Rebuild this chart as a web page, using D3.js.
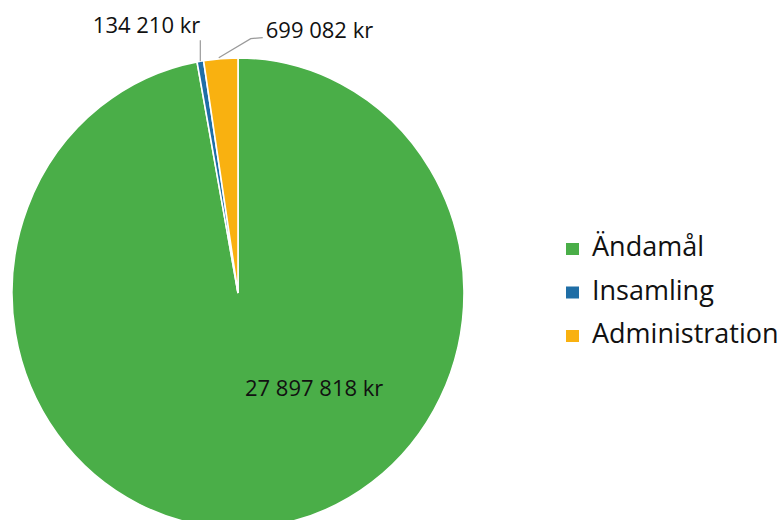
<!DOCTYPE html>
<html>
<head>
<meta charset="utf-8">
<script src="https://cdn.jsdelivr.net/npm/d3@7"></script>
<style>
  html, body { margin: 0; padding: 0; background: #fff; }
  svg { display: block; font-family: 'Open Sans', sans-serif; }
</style>
</head>
<body>
<div id="chart"></div>
<script>
// Fördelning av kostnader – pie with legend on the right
const categories = ['Ändamål', 'Insamling', 'Administration'];
const values = [27897818, 134210, 699082];
const valueLabels = ['27 897 818 kr', '134 210 kr', '699 082 kr'];
const colors = ['#4aae48', '#1f6ea6', '#f9b110'];

const W = 782, H = 520;
const CX = 238, CY = 293, R = 226, Y_STRETCH = 1.04;

const svg = d3.select('#chart').append('svg')
  .attr('width', W)
  .attr('height', H);

const pie = d3.pie().sort(null).value(d => d.value);
const arcs = pie(categories.map((c, i) => ({ name: c, value: values[i], label: valueLabels[i], color: colors[i] })));

const arc = d3.arc().innerRadius(0).outerRadius(R);

const pieG = svg.append('g')
  .attr('transform', `translate(${CX},${CY}) scale(1,${Y_STRETCH})`);

pieG.selectAll('path')
  .data(arcs)
  .enter().append('path')
  .attr('d', arc)
  .attr('fill', d => d.data.color)
  .attr('stroke', '#fff')
  .attr('stroke-width', 1.6);

// point on the outer edge at slice mid-angle (in page coords)
function edgePoint(d) {
  const a = (d.startAngle + d.endAngle) / 2;
  return [CX + R * Math.sin(a), CY - R * Y_STRETCH * Math.cos(a)];
}

// big slice label inside
svg.append('text')
  .attr('x', CX + 7)
  .attr('y', CY + 103)
  .attr('font-size', 22)
  .attr('fill', '#111')
  .text(arcs[0].data.label);

// small slices: leader lines + labels
const insamling = arcs[1];
const [bx, by] = edgePoint(insamling);
svg.append('path')
  .attr('d', d3.line()([[bx, by], [bx, by - 21]]))
  .attr('stroke', '#9a9a9a')
  .attr('stroke-width', 1.2)
  .attr('fill', 'none');
svg.append('text')
  .attr('x', bx)
  .attr('y', by - 28)
  .attr('text-anchor', 'end')
  .attr('font-size', 22)
  .attr('fill', '#111')
  .text(insamling.data.label);

const admin = arcs[2];
const [ox, oy] = edgePoint(admin);
svg.append('path')
  .attr('d', d3.line()([[ox - 2, oy - 1], [ox + 30, oy - 20], [ox + 42, oy - 21]]))
  .attr('stroke', '#9a9a9a')
  .attr('stroke-width', 1.2)
  .attr('fill', 'none');
svg.append('text')
  .attr('x', ox + 45)
  .attr('y', oy - 21)
  .attr('font-size', 22)
  .attr('fill', '#111')
  .text(admin.data.label);

// legend
const legend = svg.append('g').attr('transform', 'translate(566,256)');
const rows = legend.selectAll('g')
  .data(arcs)
  .enter().append('g')
  .attr('transform', (_, i) => `translate(0,${i * 43.5})`);

rows.append('rect')
  .attr('x', 0)
  .attr('y', -13)
  .attr('width', 13)
  .attr('height', 12)
  .attr('fill', d => d.data.color);

rows.append('text')
  .attr('x', 26)
  .attr('y', 0)
  .attr('font-size', 27)
  .attr('fill', '#111')
  .text(d => d.data.name);
</script>
</body>
</html>
